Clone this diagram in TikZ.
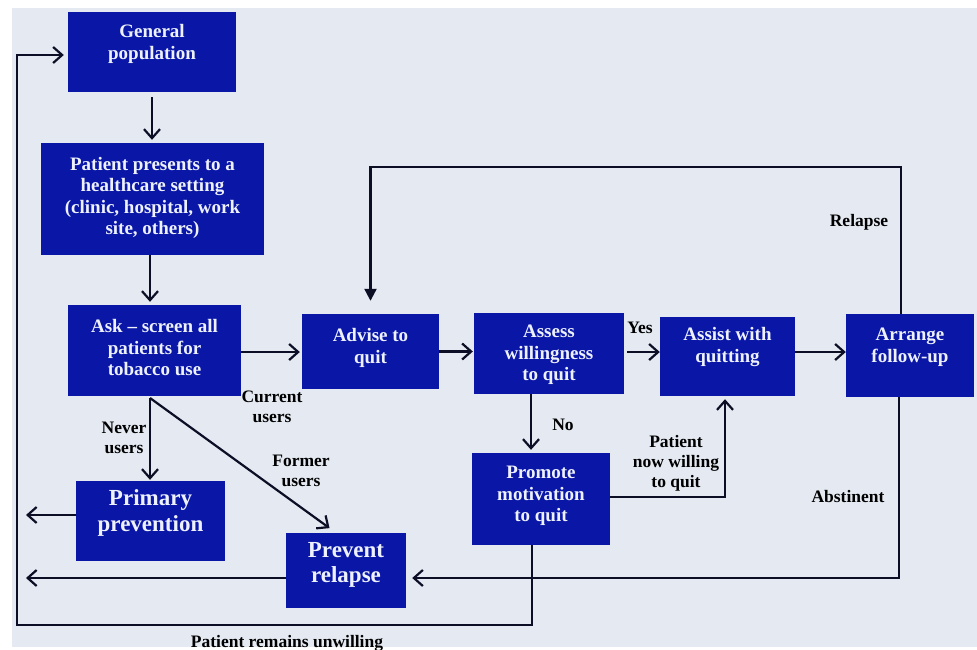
\documentclass[tikz,border=0pt]{standalone}
\usepackage{fontspec}
\setmainfont{Liberation Serif}
\usetikzlibrary{arrows.meta}
\definecolor{bgc}{HTML}{E4E9F2}
\definecolor{boxc}{HTML}{0A16A6}
\definecolor{boxt}{HTML}{EEF2FF}
\definecolor{linec}{HTML}{0B0E24}
\begin{document}
\begin{tikzpicture}[x=1pt,y=-1pt,
  box/.style={fill=boxc, draw=none, inner sep=0pt},
  btext/.style={text=boxt, font=\bfseries\fontsize{19}{21.5}\selectfont, align=center, inner sep=0pt},
  bigtext/.style={text=boxt, font=\bfseries\fontsize{23}{25.5}\selectfont, align=center, inner sep=0pt},
  lab/.style={text=black, font=\bfseries\fontsize{17.5}{20}\selectfont, align=center, inner sep=0pt},
  conn/.style={draw=linec, line width=2.2pt},
  arr/.style={conn, -{Straight Barb[length=9pt,width=16pt,line width=2.2pt]}},
  farr/.style={conn, -{Triangle[length=12pt,width=12pt]}}
]
\useasboundingbox (0,0) rectangle (977,649);
\fill[white] (0,0) rectangle (977,649);
\fill[bgc] (12,8) rectangle (977,647);

% boxes
\node[box, minimum width=168pt, minimum height=80pt] (gp) at (152,52) {};
\node[btext] (gpt) at (152,44) {General\\population};
\node[box, minimum width=223pt, minimum height=112pt] (pp) at (152.5,199) {};
\node[btext] (ppt) at (152.5,198) {Patient presents to a\\healthcare setting\\(clinic, hospital, work\\site, others)};
\node[box, minimum width=173pt, minimum height=91pt] (ask) at (154.5,350.5) {};
\node[btext] (askt) at (154.5,348) {Ask -- screen all\\patients for\\tobacco use};
\node[box, minimum width=137pt, minimum height=75pt] (adv) at (370.5,351.5) {};
\node[btext] (advt) at (370.5,348) {Advise to\\quit};
\node[box, minimum width=150pt, minimum height=81pt] (ass) at (549,353.5) {};
\node[btext] (asst) at (549,355) {Assess\\willingness\\to quit};
\node[box, minimum width=135pt, minimum height=79pt] (ast) at (727.5,356.5) {};
\node[btext] (astt) at (727.5,347) {Assist with\\quitting};
\node[box, minimum width=128pt, minimum height=83pt] (arr) at (910,355.5) {};
\node[btext] (arrt) at (910,347) {Arrange\\follow-up};
\node[box, minimum width=149pt, minimum height=80pt] (prim) at (150.5,521) {};
\node[bigtext] (primt) at (150.5,513) {Primary\\prevention};
\node[box, minimum width=120pt, minimum height=75pt] (prev) at (346,570.5) {};
\node[bigtext] (prevt) at (346,565) {Prevent\\relapse};
\node[box, minimum width=138pt, minimum height=92pt] (prom) at (541,499) {};
\node[btext] (promt) at (541,496) {Promote\\motivation\\to quit};

% coordinates
\coordinate (split) at (150,398);
\coordinate (lb) at (17,625);
\coordinate (rtop) at (0,167);
\coordinate (pl) at (26,515);
\coordinate (pl2) at (26,578);

% connectors
\draw[arr, shorten <=5pt, shorten >=3pt] (gp.south) -- (gp.south |- pp.north);
\draw[arr, shorten >=3pt] ([xshift=-2.5pt]pp.south) -- ([xshift=-2.5pt]pp.south |- ask.north);
\draw[arr, shorten >=2pt] ([yshift=-1.5pt]ask.east) -- ([yshift=-1.5pt]ask.east -| adv.west);
\draw[arr, shorten >=1pt] (adv.east) -- (adv.east -| ass.west);
\draw[arr, shorten <=3pt] ([yshift=1.5pt]ass.east) -- ([yshift=1.5pt]ass.east -| ast.west);
\draw[arr] ([yshift=4.5pt]ast.east) -- ([yshift=4.5pt]ast.east -| arr.west);
\draw[arr, shorten >=1pt] (split) -- (split |- prim.north);
\draw[arr, shorten >=8pt] (split) -- ([xshift=-10pt]prev.north);
\draw[arr, shorten >=3pt] ([xshift=-18pt]ass.south) -- ([xshift=-18pt]ass.south |- prom.north);
\draw[arr, shorten >=3pt] ([yshift=2pt]prom.east) -| ([xshift=-2.5pt]ast.south);
\draw[arr, shorten >=6pt] ([xshift=-11pt]arr.south) |- ([yshift=-7.5pt]prev.east);
\draw[arr, shorten >=4pt] ([xshift=-9pt]prom.south) |- (lb) |- ([yshift=-3pt]gp.west);
\draw[farr, shorten >=13pt] ([xshift=-9pt]arr.north) |- (adv.north |- rtop) -- (adv.north);
\draw[arr] ([yshift=6pt]prim.west) -- (pl);
\draw[arr] ([yshift=-7.5pt]prev.west) -- (pl2);

% labels
\node[lab] (lcur) at (272,407) {Current\\users};
\node[lab] (lnev) at (124,438) {Never\\users};
\node[lab] (lfor) at (301,471) {Former\\users};
\node[lab] (lyes) at (640,327.5) {Yes};
\node[lab] (lno) at (563,425) {No};
\node[lab] (lpat) at (676,463) {Patient\\now willing\\to quit};
\node[lab] (labs) at (848,497) {Abstinent};
\node[lab] (lrel) at (859,222) {Relapse};
\node[lab, anchor=base] (lunw) at (287,647) {Patient remains unwilling};
\end{tikzpicture}
\end{document}
